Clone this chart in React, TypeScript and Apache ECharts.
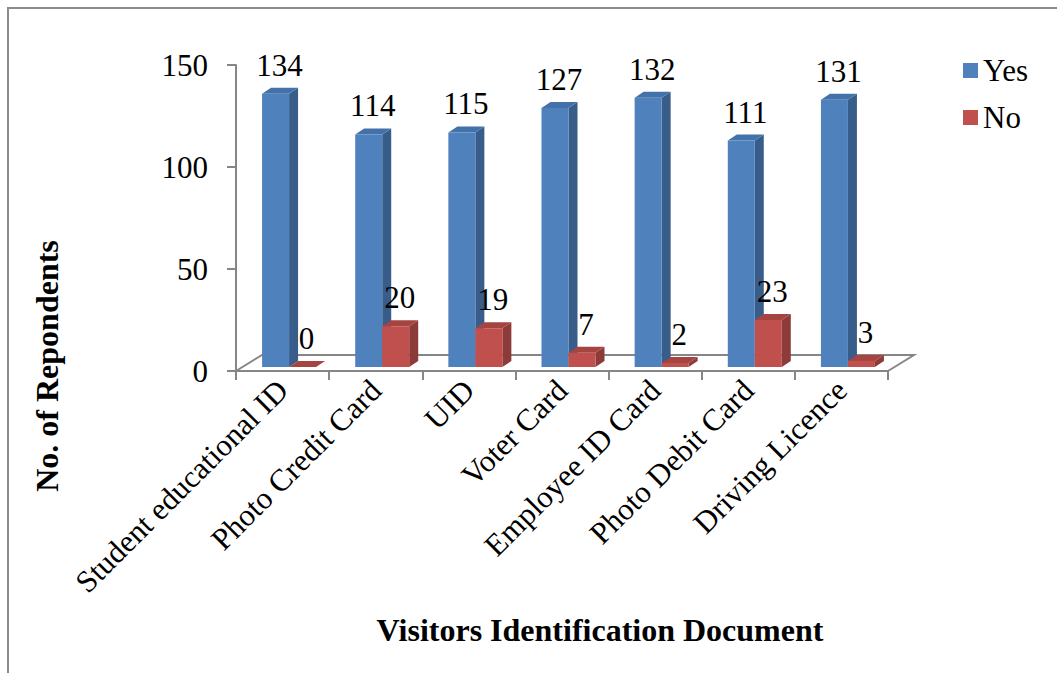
import React, { useEffect, useRef } from "react";
import * as echarts from "echarts";

const categories = [
  "Student educational ID",
  "Photo Credit Card",
  "UID",
  "Voter Card",
  "Employee ID Card",
  "Photo Debit Card",
  "Driving Licence",
];
const yesValues = [134, 114, 115, 127, 132, 111, 131];
const noValues = [0, 20, 19, 7, 2, 23, 3];
const seriesNames = ["Yes", "No"];

const FONT = "'Liberation Serif', 'Times New Roman', serif";
const FS = 31;

// grid box (front plane of the 3D floor)
const GRID_LEFT = 236;
const GRID_TOP = 65;
const GRID_RIGHT_X = 888;
const GRID_BOTTOM_Y = 371;
// floor depth offset
const FLOOR_DX = 26;
const FLOOR_DY = -16;
// bar placement inside the depth
const BAR_SHIFT_X = 6.5;
const BAR_SHIFT_Y = -4;
const BAR_W = 27;
const SIDE_DX = 9;
const SIDE_DY = -6;

const palette = [
  { front: "#4F81BD", side: "#385D8A", top: "#4372AA" },
  { front: "#C0504D", side: "#8C3B39", top: "#A54441" },
];

function makeRenderItem(idx: number) {
  return (params: any, api: any) => {
    const i = api.value(0);
    const v = api.value(1);
    const base = api.coord([i, 0]);
    const topPt = api.coord([i, v]);
    const cx = base[0] + BAR_SHIFT_X;
    const yb = base[1] + BAR_SHIFT_Y;
    const yt = topPt[1] + BAR_SHIFT_Y;
    const x0 = idx === 0 ? cx - BAR_W : cx;
    const x1 = x0 + BAR_W;
    const c = palette[idx];
    return {
      type: "group",
      children: [
        {
          type: "polygon",
          shape: {
            points: [
              [x1, yb],
              [x1 + SIDE_DX, yb + SIDE_DY],
              [x1 + SIDE_DX, yt + SIDE_DY],
              [x1, yt],
            ],
          },
          style: { fill: c.side },
        },
        {
          type: "polygon",
          shape: {
            points: [
              [x0, yt],
              [x0 + SIDE_DX, yt + SIDE_DY],
              [x1 + SIDE_DX, yt + SIDE_DY],
              [x1, yt],
            ],
          },
          style: { fill: c.top },
        },
        {
          type: "rect",
          shape: { x: x0, y: yt, width: BAR_W, height: Math.max(yb - yt, 0) },
          style: { fill: c.front },
        },
        {
          type: "text",
          x: (x0 + x1) / 2 + 4,
          y: yt + SIDE_DY - 7,
          style: {
            text: String(v),
            fontSize: FS,
            fontFamily: FONT,
            fill: "#000",
            align: "center",
            verticalAlign: "bottom",
          },
        },
      ],
    };
  };
}

export default function App() {
  const ref = useRef<HTMLDivElement>(null);

  useEffect(() => {
    if (!ref.current) return;
    const chart = echarts.init(ref.current, undefined, { renderer: "svg" });
    const axisGray = "#868686";

    chart.setOption({
      animation: false,
      backgroundColor: "#fff",
      grid: {
        left: GRID_LEFT,
        top: GRID_TOP,
        width: GRID_RIGHT_X - GRID_LEFT,
        height: GRID_BOTTOM_Y - GRID_TOP,
        containLabel: false,
      },
      legend: {
        orient: "vertical",
        left: 958,
        top: 50,
        itemWidth: 15,
        itemHeight: 15,
        itemGap: 16,
        icon: "rect",
        textStyle: { fontSize: FS, fontFamily: FONT, color: "#000" },
        data: seriesNames,
      },
      xAxis: {
        type: "category",
        data: categories,
        axisLine: { show: true, lineStyle: { color: axisGray, width: 2 } },
        axisTick: { show: true, length: 9, lineStyle: { color: axisGray, width: 2 } },
        axisLabel: {
          rotate: 45,
          margin: 14,
          fontSize: FS,
          fontFamily: FONT,
          color: "#000",
        },
        splitLine: { show: false },
      },
      yAxis: {
        type: "value",
        min: 0,
        max: 150,
        interval: 50,
        axisLine: { show: true, lineStyle: { color: axisGray, width: 2 } },
        axisTick: { show: true, length: 9, lineStyle: { color: axisGray, width: 2 } },
        axisLabel: {
          margin: 28,
          fontSize: FS,
          fontFamily: FONT,
          color: "#000",
        },
        splitLine: { show: false },
      },
      graphic: [
        // outer frame (top and left edges)
        {
          type: "polyline",
          shape: { points: [[8, 673], [8, 8], [1057, 8]] },
          style: { stroke: "#8c8c8c", lineWidth: 2, fill: "none" },
          silent: true,
        },
        // 3D floor outline
        {
          type: "polyline",
          shape: {
            points: [
              [GRID_LEFT, GRID_BOTTOM_Y],
              [GRID_LEFT + FLOOR_DX, GRID_BOTTOM_Y + FLOOR_DY],
              [GRID_RIGHT_X + FLOOR_DX, GRID_BOTTOM_Y + FLOOR_DY],
              [GRID_RIGHT_X, GRID_BOTTOM_Y],
            ],
          },
          style: { stroke: axisGray, lineWidth: 2, fill: "none" },
          z: 0,
          silent: true,
        },
        {
          type: "text",
          x: 47,
          y: 366,
          rotation: Math.PI / 2,
          style: {
            text: "No. of Repondents",
            fontSize: 32,
            fontWeight: "bold",
            fontFamily: FONT,
            fill: "#000",
            align: "center",
            verticalAlign: "middle",
          },
        },
        {
          type: "text",
          x: 600,
          y: 630,
          style: {
            text: "Visitors Identification Document",
            fontSize: 32,
            fontWeight: "bold",
            fontFamily: FONT,
            fill: "#000",
            align: "center",
            verticalAlign: "middle",
          },
        },
      ],
      series: [
        {
          name: seriesNames[0],
          type: "custom",
          itemStyle: { color: palette[0].front },
          renderItem: makeRenderItem(0),
          encode: { x: 0, y: 1 },
          data: yesValues.map((v, i) => [i, v]),
          z: 3,
        },
        {
          name: seriesNames[1],
          type: "custom",
          itemStyle: { color: palette[1].front },
          renderItem: makeRenderItem(1),
          encode: { x: 0, y: 1 },
          data: noValues.map((v, i) => [i, v]),
          z: 4,
        },
      ],
    });

    return () => chart.dispose();
  }, []);

  return (
    <div
      ref={ref}
      style={{ position: "fixed", left: 0, top: 0, width: 1057, height: 673, background: "#fff" }}
    />
  );
}
